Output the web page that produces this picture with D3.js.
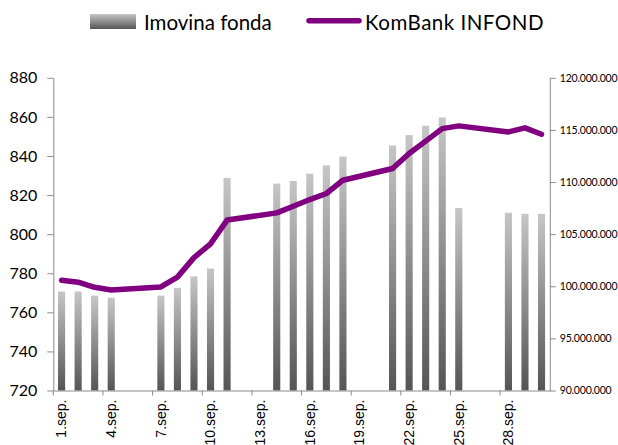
<!DOCTYPE html>
<html>
<head>
<meta charset="utf-8">
<script src="https://cdn.jsdelivr.net/npm/d3@7"></script>
<style>
  body { margin: 0; background: #fff; }
  svg { display: block; }
</style>
</head>
<body>
<div id="chart"></div>
<script>
// days of september, weekend days have no data (null)
const days = d3.range(1, 31).map(d => d + '.sep.');
const dayTicks = ['1.sep.', '4.sep.', '7.sep.', '10.sep.', '13.sep.', '16.sep.', '19.sep.', '22.sep.', '25.sep.', '28.sep.'];

// Imovina fonda (RSD)
const fundAssets = [
    99500000, 99500000, 99100000, 98900000, null, null,
    99100000, 99850000, 100950000, 101700000, 110400000, null, null,
    109850000, 110100000, 110800000, 111600000, 112450000, null, null,
    113500000, 114500000, 115400000, 116200000, 107500000, null, null,
    107050000, 106950000, 106950000
];

// KomBank INFOND unit value
const unitValue = [
    776.4, 775.4, 772.8, 771.4, null, null,
    773.0, 778.0, 788.0, 795.0, 807.2, null, null,
    810.9, 814.3, 817.7, 820.8, 827.6, null, null,
    833.6, 841.3, 847.6, 854.0, 855.4, null, null,
    852.3, 854.4, 851.1
];

const leftTicks = [720, 740, 760, 780, 800, 820, 840, 860, 880];
const rightTicks = [90000000, 95000000, 100000000, 105000000, 110000000, 115000000, 120000000];

const width = 618, height = 445;
const plot = {left: 53.3, right: 549.8, top: 77.8, bottom: 390.5};

const svg = d3.select('#chart').append('svg')
    .attr('width', width)
    .attr('height', height);

const grad = svg.append('defs').append('linearGradient')
    .attr('id', 'barGrad')
    .attr('x1', 0).attr('y1', 0).attr('x2', 0).attr('y2', 1);
grad.append('stop').attr('offset', '0%').attr('stop-color', '#c6c6c6');
grad.append('stop').attr('offset', '100%').attr('stop-color', '#555555');

const xScale = d3.scaleBand()
    .domain(days)
    .range([plot.left, plot.right])
    .paddingInner(0.57)
    .paddingOuter(0.285);
const step = xScale.step();

const yLeft = d3.scaleLinear()
    .domain([720, 880])
    .range([plot.bottom, plot.top]);

const yRight = d3.scaleLinear()
    .domain([90000000, 120000000])
    .range([plot.bottom, plot.top]);

const barData = days.map((d, i) => ({day: d, value: fundAssets[i]})).filter(d => d.value !== null);
const lineData = days.map((d, i) => ({day: d, value: unitValue[i]})).filter(d => d.value !== null);

// bars
svg.append('g').selectAll('rect')
    .data(barData)
    .join('rect')
    .attr('x', d => xScale(d.day))
    .attr('y', d => yRight(d.value))
    .attr('width', xScale.bandwidth())
    .attr('height', d => yRight(90000000) - yRight(d.value))
    .attr('fill', 'url(#barGrad)');

// axes
const axisColor = '#8a8a8a';

const leftAxis = svg.append('g')
    .attr('transform', `translate(${plot.left},0)`)
    .call(d3.axisLeft(yLeft).tickValues(leftTicks).tickSize(6).tickPadding(10).tickSizeOuter(0));
leftAxis.selectAll('text')
    .attr('font-family', 'Lato, sans-serif')
    .attr('font-size', 16)
    .attr('fill', '#000');

const rightAxis = svg.append('g')
    .attr('transform', `translate(${plot.right},0)`)
    .call(d3.axisRight(yRight).tickValues(rightTicks).tickSize(6).tickPadding(4).tickSizeOuter(0)
        .tickFormat(v => d3.format(',')(v).replace(/,/g, '.')));
rightAxis.selectAll('text')
    .attr('font-family', 'Lato, sans-serif')
    .attr('font-size', 10.5)
    .attr('letter-spacing', -0.2)
    .attr('fill', '#000');

const bottomAxis = svg.append('g')
    .attr('transform', `translate(0,${plot.bottom})`)
    .call(d3.axisBottom(xScale).tickValues(dayTicks).tickSize(5).tickSizeOuter(0));
bottomAxis.selectAll('.tick line')
    .attr('x1', -step / 2).attr('x2', -step / 2);
bottomAxis.selectAll('text')
    .attr('font-family', 'Liberation Sans, Arial, sans-serif')
    .attr('font-size', 14)
    .attr('fill', '#000')
    .attr('transform', 'rotate(-90)')
    .attr('text-anchor', 'end')
    .attr('x', -9)
    .attr('y', 0)
    .attr('dy', '0.35em');

svg.selectAll('.domain').attr('stroke', axisColor);
svg.selectAll('.tick line').attr('stroke', axisColor);

// line
const line = d3.line()
    .x(d => xScale(d.day) + xScale.bandwidth() / 2)
    .y(d => yLeft(d.value));

svg.append('path')
    .datum(lineData)
    .attr('d', line)
    .attr('fill', 'none')
    .attr('stroke', '#800080')
    .attr('stroke-width', 5.5)
    .attr('stroke-linejoin', 'round')
    .attr('stroke-linecap', 'round');

// legend
const legend = svg.append('g');
legend.append('rect')
    .attr('x', 90).attr('y', 14)
    .attr('width', 46).attr('height', 15)
    .attr('fill', 'url(#barGrad)');
legend.append('text')
    .attr('x', 144).attr('y', 30)
    .attr('font-family', 'Lato, sans-serif')
    .attr('font-size', 20.5)
    .text('Imovina fonda');
legend.append('line')
    .attr('x1', 309).attr('x2', 359)
    .attr('y1', 20.7).attr('y2', 20.7)
    .attr('stroke', '#800080')
    .attr('stroke-width', 5.5)
    .attr('stroke-linecap', 'round');
legend.append('text')
    .attr('x', 365).attr('y', 30)
    .attr('font-family', 'Lato, sans-serif')
    .attr('font-size', 20.5)
    .attr('letter-spacing', 0.5)
    .text('KomBank INFOND');
</script>
</body>
</html>
